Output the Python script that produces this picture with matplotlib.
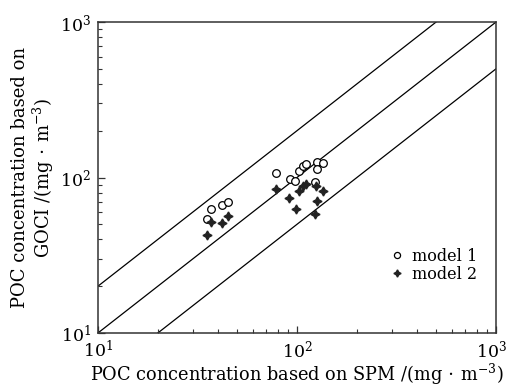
import numpy as np
import matplotlib
matplotlib.use("Agg")
import matplotlib.pyplot as plt
from matplotlib.transforms import ScaledTranslation

plt.rcParams['font.family'] = ['DejaVu Serif']
plt.rcParams['mathtext.fontset'] = 'dejavuserif'

# POC from SPM (x) vs POC from GOCI (y), mg/m^3
spm_m1 = [35.3, 36.8, 42.2, 44.8, 78.2, 91.8, 98.3, 102.3, 107.6, 110.6, 125.6, 135.1, 126.8, 123.1]
goci_m1 = [54.1, 62.7, 67.0, 69.1, 107.7, 97.3, 94.9, 110.9, 118.6, 122.2, 125.3, 123.4, 112.9, 94.2]

spm_m2 = [35.5, 37.2, 42.0, 44.8, 78.2, 91.7, 98.9, 102.6, 107.2, 110.6, 125.0, 135.4, 126.8, 123.1]
goci_m2 = [42.7, 51.5, 50.8, 56.7, 84.3, 74.1, 62.5, 82.2, 87.8, 91.2, 87.9, 81.9, 70.9, 58.7]

# reference lines y = k * x
ratios = [2.0, 1.0, 0.5]

fig = plt.figure(figsize=(5.1, 3.87), dpi=100)
ax = fig.add_axes([0.192, 0.1395, 0.7805, 0.8035])

xx = np.array([10.0, 1000.0])
for k in ratios:
    ax.plot(xx, k * xx, color='black', lw=0.9, zorder=1)

ax.plot(spm_m1, goci_m1, linestyle='none', marker='o', markersize=5.5,
        markerfacecolor='white', markeredgecolor='black', markeredgewidth=0.9,
        label='model 1', zorder=3)
ax.plot(spm_m2, goci_m2, linestyle='none', marker=(4, 1, 0), markersize=6.5,
        color='#222222', label='model 2', zorder=3)

ax.set_xscale('log')
ax.set_yscale('log')
ax.set_xlim(10, 1000)
ax.set_ylim(10, 1000)

ax.tick_params(which='both', direction='in', top=False, right=False,
               labelsize=12.5, color='#333333')
ax.tick_params(which='major', length=5, width=0.9, pad=5)
ax.tick_params(which='minor', length=3, width=0.8)
for s in ax.spines.values():
    s.set_linewidth(1.1)
    s.set_color('#333333')

# keep the 10^3 label on the x axis inside the figure
fig.canvas.draw()
last = [t for t in ax.get_xticklabels() if t.get_position()[0] == 1000]
for t in last:
    t.set_transform(t.get_transform() + ScaledTranslation(-3 / 72, 0, fig.dpi_scale_trans))

unit = r'/(mg$\,\cdot\,$m$^{-3}$)'
ax.set_xlabel('POC concentration based on SPM ' + unit, fontsize=12.8, labelpad=0)
ax.set_ylabel('POC concentration based on\nGOCI ' + unit, fontsize=13,
              labelpad=3, linespacing=1.1)

ax.legend(loc='lower right', bbox_to_anchor=(0.99, 0.115), frameon=False, fontsize=11.5,
          handletextpad=0.45, labelspacing=0.05, handlelength=1.0, markerscale=0.8)

fig.savefig('out.png', dpi=100)
